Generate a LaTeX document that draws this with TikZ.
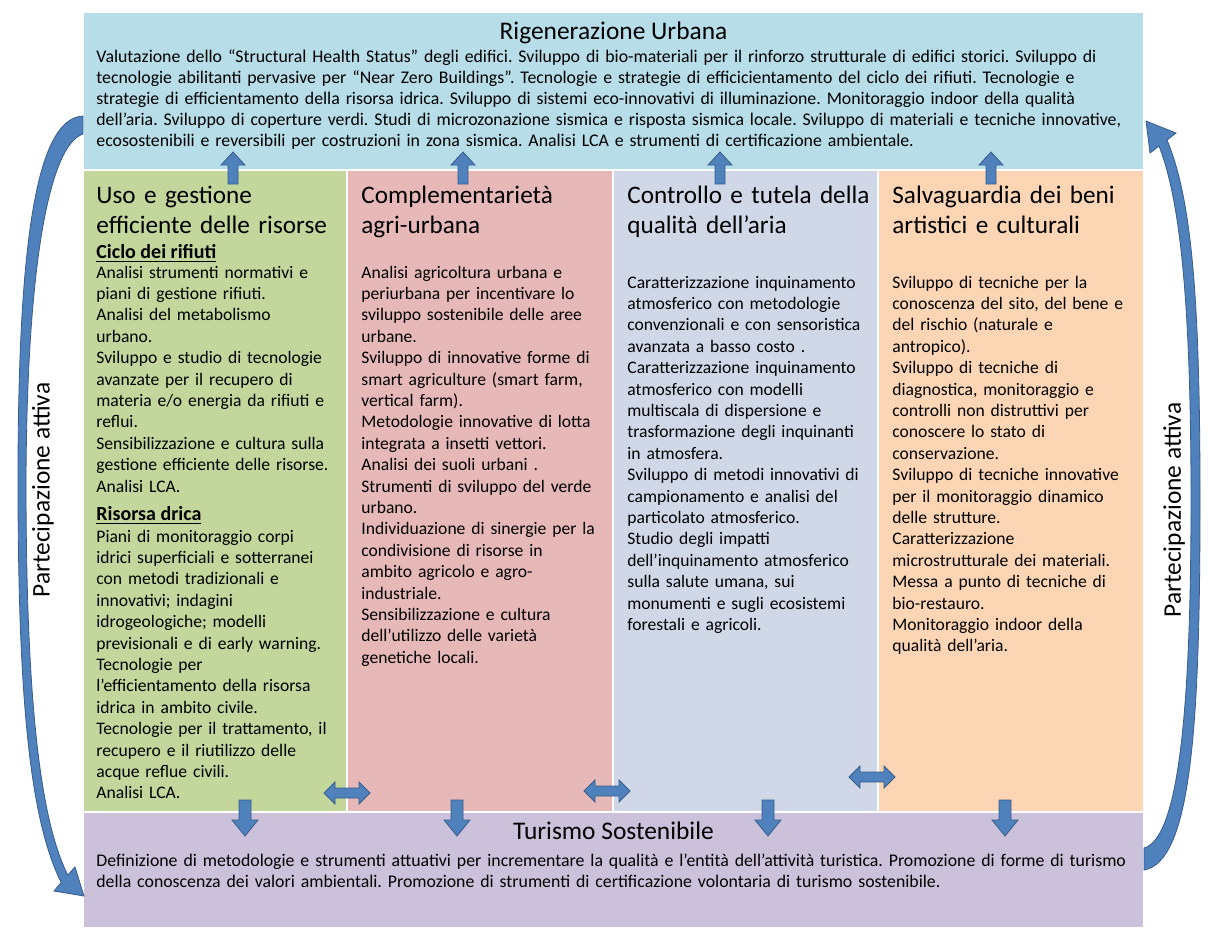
\documentclass[tikz,border=0pt]{standalone}
\usepackage{fontspec}
\setmainfont{Carlito}
\usetikzlibrary{positioning, calc}

\definecolor{urbblue}{HTML}{B7DDE8}
\definecolor{usegreen}{HTML}{C3D69B}
\definecolor{agripink}{HTML}{E6B9B8}
\definecolor{airblue}{HTML}{D0D8E8}
\definecolor{artpeach}{HTML}{FCD5B5}
\definecolor{turlilac}{HTML}{CCC1DA}
\definecolor{arrfill}{HTML}{4F81BD}
\definecolor{arrline}{HTML}{385D8A}

\tikzset{
  panel/.style={draw=white, line width=1pt, inner sep=0pt, outer sep=0pt},
  bigtitle/.style={font=\fontsize{12.7}{15}\selectfont, anchor=base, inner sep=0pt},
  coltitle/.style={font=\fontsize{12.6}{15}\selectfont, anchor=base west, text width=130pt, align=left, inner sep=0pt},
  subtitle/.style={font=\fontsize{10}{12}\selectfont\bfseries, anchor=base west, inner sep=0pt},
  colbody/.style={font=\fontsize{8.8}{10.7}\selectfont, anchor=base west, text width=130pt, align=left, inner sep=0pt},
  widebody/.style={font=\fontsize{8.9}{10.6}\selectfont, anchor=base west, text width=540pt, align=left, inner sep=0pt},
  blkarrow/.style={fill=arrfill, draw=arrline, line width=0.4pt},
  uparr/.pic={\path[blkarrow] (0,-16) -- (12,-3) -- (5,-3) -- (5,16) -- (-5,16) -- (-5,-3) -- (-12,-3) -- cycle;},
  downarr/.pic={\path[blkarrow] (-6,-18) -- (6,-18) -- (6,2) -- (13,2) -- (0,18) -- (-13,2) -- (-6,2) -- cycle;},
  bothways/.pic={\path[blkarrow] (-23,0) -- (-12,-11) -- (-12,-5) -- (12,-5) -- (12,-11) -- (23,0)
                  -- (12,11) -- (12,5) -- (-12,5) -- (-12,11) -- cycle;},
}

\begin{document}
\frenchspacing
\begin{tikzpicture}[x=0.5pt, y=-0.5pt]
\useasboundingbox (0,0) rectangle (1208,928);

% panels
\node[panel, fill=urbblue, minimum width=530.5pt, minimum height=79pt] (urb) at (613.5,91) {};
\node[panel, fill=usegreen, minimum width=132pt, minimum height=321pt] (uso) at (215,491) {};
\node[panel, fill=agripink, minimum width=133pt, minimum height=321pt] (agri) at (480,491) {};
\node[panel, fill=airblue, minimum width=132.5pt, minimum height=321pt] (aria) at (745.5,491) {};
\node[panel, fill=artpeach, minimum width=133pt, minimum height=321pt] (beni) at (1011,491) {};
\node[panel, fill=turlilac, minimum width=530.5pt, minimum height=58pt] (tur) at (613.5,870) {};

% Rigenerazione Urbana
\node[bigtitle] (urbtitle) at (613.5,39) {Rigenerazione Urbana};
\node[widebody] (urbtext) at (96,62) {Valutazione dello “Structural Health Status” degli edifici. Sviluppo di bio-materiali per il rinforzo strutturale di edifici storici. Sviluppo di\\
tecnologie abilitanti pervasive per “Near Zero Buildings”. Tecnologie e strategie di efficicientamento del ciclo dei rifiuti. Tecnologie e\\
strategie di efficientamento della risorsa idrica. Sviluppo di sistemi eco-innovativi di illuminazione. Monitoraggio indoor della qualità\\
dell’aria. Sviluppo di coperture verdi. Studi di microzonazione sismica e risposta sismica locale. Sviluppo di materiali e tecniche innovative,\\
ecosostenibili e reversibili per costruzioni in zona sismica. Analisi LCA e strumenti di certificazione ambientale.};

% Uso e gestione
\node[coltitle] (usotitle) at (96,203) {Uso e gestione\\ efficiente delle risorse};
\node[subtitle] (usosub1) at (96,258) {\underline{Ciclo dei rifiuti}};
\node[colbody] (usotext1) at (96,278) {Analisi strumenti normativi e\\
piani di gestione rifiuti.\\
Analisi del metabolismo\\
urbano.\\
Sviluppo e studio di tecnologie\\
avanzate per il recupero di\\
materia e/o energia da rifiuti e\\
reflui.\\
Sensibilizzazione e cultura sulla\\
gestione efficiente delle risorse.\\
Analisi LCA.};
\node[subtitle] (usosub2) at (96,520) {\underline{Risorsa drica}};
\node[colbody] (usotext2) at (96,542) {Piani di monitoraggio corpi\\
idrici superficiali e sotterranei\\
con metodi tradizionali e\\
innovativi; indagini\\
idrogeologiche; modelli\\
previsionali e di early warning.\\
Tecnologie per\\
l’efficientamento della risorsa\\
idrica in ambito civile.\\
Tecnologie per il trattamento, il\\
recupero e il riutilizzo delle\\
acque reflue civili.\\
Analisi LCA.};

% Complementarieta agri-urbana
\node[coltitle] (agrititle) at (361,203) {Complementarietà\\ agri-urbana};
\node[colbody] (agritext) at (361,278) {Analisi agricoltura urbana e\\
periurbana per incentivare lo\\
sviluppo sostenibile delle aree\\
urbane.\\
Sviluppo di innovative forme di\\
smart agriculture (smart farm,\\
vertical farm).\\
Metodologie innovative di lotta\\
integrata a insetti vettori.\\
Analisi dei suoli urbani .\\
Strumenti di sviluppo del verde\\
urbano.\\
Individuazione di sinergie per la\\
condivisione di risorse in\\
ambito agricolo e agro-\\
industriale.\\
Sensibilizzazione e cultura\\
dell’utilizzo delle varietà\\
genetiche locali.};

% Controllo e tutela della qualita dell'aria
\node[coltitle] (ariatitle) at (627,203) {Controllo e tutela della\\ qualità dell’aria};
\node[colbody] (ariatext) at (627,288) {Caratterizzazione inquinamento\\
atmosferico con metodologie\\
convenzionali e con sensoristica\\
avanzata a basso costo .\\
Caratterizzazione inquinamento\\
atmosferico con modelli\\
multiscala di dispersione e\\
trasformazione degli inquinanti\\
in atmosfera.\\
Sviluppo di metodi innovativi di\\
campionamento e analisi del\\
particolato atmosferico.\\
Studio degli impatti\\
dell’inquinamento atmosferico\\
sulla salute umana, sui\\
monumenti e sugli ecosistemi\\
forestali e agricoli.};

% Salvaguardia dei beni
\node[coltitle] (benititle) at (892,203) {Salvaguardia dei beni\\ artistici e culturali};
\node[colbody] (benitext) at (892,288) {Sviluppo di tecniche per la\\
conoscenza del sito, del bene e\\
del rischio (naturale e\\
antropico).\\
Sviluppo di tecniche di\\
diagnostica, monitoraggio e\\
controlli non distruttivi per\\
conoscere lo stato di\\
conservazione.\\
Sviluppo di tecniche innovative\\
per il monitoraggio dinamico\\
delle strutture.\\
Caratterizzazione\\
microstrutturale dei materiali.\\
Messa a punto di tecniche di\\
bio-restauro.\\
Monitoraggio indoor della\\
qualità dell’aria.};

% Turismo Sostenibile
\node[bigtitle] (turtitle) at (613.5,839) {Turismo Sostenibile};
\node[widebody] (turtext) at (96,866) {Definizione di metodologie e strumenti attuativi per incrementare la qualità e l’entità dell’attività turistica. Promozione di forme di turismo\\
della conoscenza dei valori ambientali. Promozione di strumenti di certificazione volontaria di turismo sostenibile.};

% block arrows between the panels
\foreach \x in {233,463,720,991} \pic at (\x,168) {uparr};
\foreach \x in {245,457,768,1005} \pic at (\x,818) {downarr};
\pic at (347,793) {bothways};
\pic at (607,791) {bothways};
\pic at (872,777) {bothways};

% partecipazione attiva, left and right
\path[blkarrow] (83,116) -- (83,134)
  .. controls (50,145) and (27,260) .. (26,480)
  .. controls (26,700) and (40,820) .. (67.8,875)
  -- (75,867) -- (84,896) -- (54,891) -- (61.2,882.5)
  .. controls (30,820) and (18,700) .. (18,480)
  .. controls (18,250) and (35,118) .. (83,116) -- cycle;
\path[blkarrow] (1144,848)
  .. controls (1180,838) and (1191,700) .. (1191,500)
  .. controls (1191,300) and (1180,200) .. (1159,146)
  -- (1150,153) -- (1146,121) -- (1176,133) -- (1167,140)
  .. controls (1192,200) and (1200,300) .. (1200,500)
  .. controls (1200,720) and (1192,862) .. (1144,870) -- cycle;
\node[bigtitle, anchor=center, rotate=90] (partsx) at (43,490) {Partecipazione attiva};
\node[bigtitle, anchor=center, rotate=90] (partdx) at (1174,510) {Partecipazione attiva};
\end{tikzpicture}
\end{document}
